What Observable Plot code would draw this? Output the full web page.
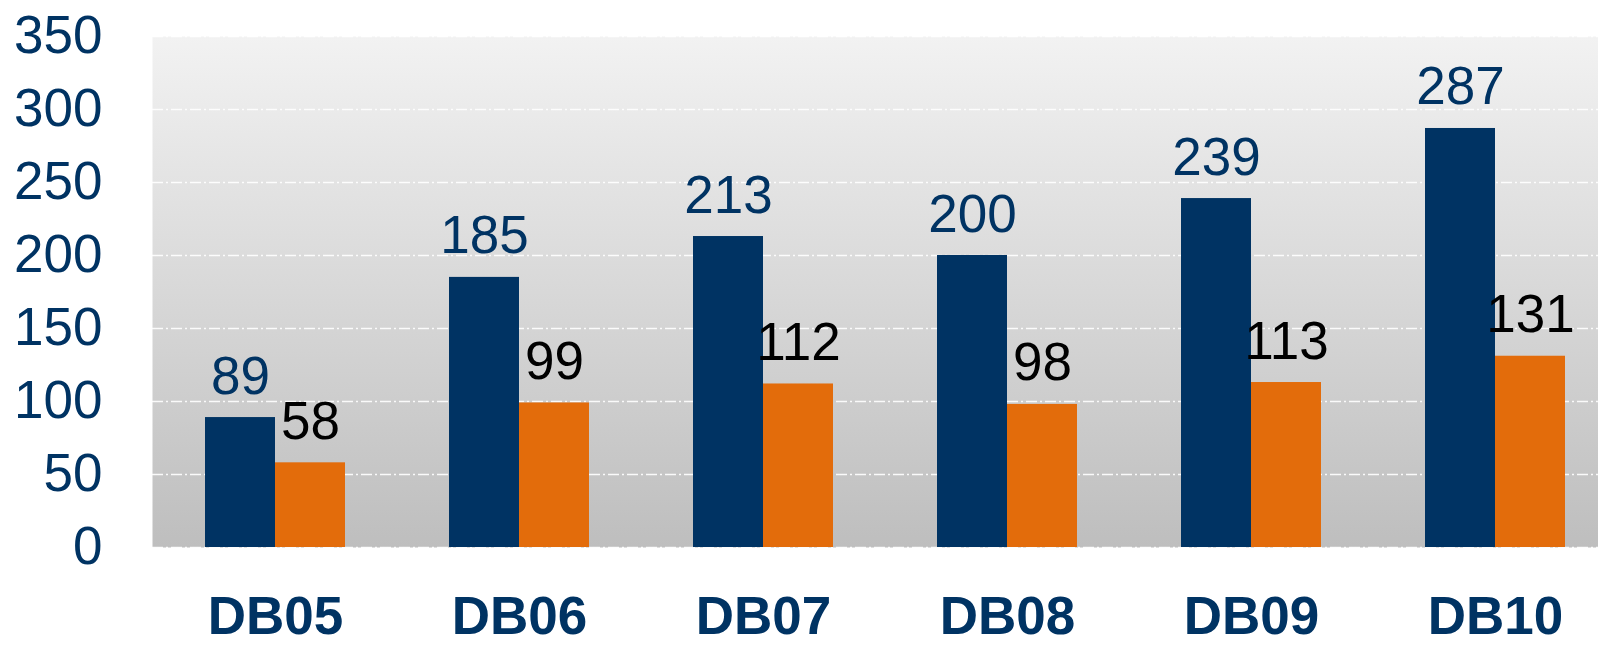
<!DOCTYPE html>
<html>
<head>
<meta charset="utf-8">
<script src="https://cdn.jsdelivr.net/npm/d3@7"></script>
<script src="https://cdn.jsdelivr.net/npm/@observablehq/plot@0.6"></script>
<style>
  html, body { margin: 0; padding: 0; background: #ffffff; overflow: hidden; }
  #chart svg { display: block; overflow: hidden; }
</style>
</head>
<body>
<div id="chart"></div>
<script>
const categories = ["DB05", "DB06", "DB07", "DB08", "DB09", "DB10"];
const seriesNavy = [89, 185, 213, 200, 239, 287];
const seriesOrange = [58, 99, 112, 98, 113, 131];
const yTicks = [0, 50, 100, 150, 200, 250, 300, 350];

const navy = "#003363";
const orange = "#E36C0B";

const dataNavy = categories.map((c, i) => ({cat: c, value: seriesNavy[i]}));
const dataOrange = categories.map((c, i) => ({cat: c, value: seriesOrange[i]}));

const FS = 53;
const half = 70;

const chart = Plot.plot({
  width: 1598,
  height: 647,
  marginTop: 36,
  marginBottom: 100,
  marginLeft: 152,
  marginRight: 0,
  style: {fontFamily: "'Liberation Sans', Arial, sans-serif", fontSize: FS + "px", color: navy, background: "transparent"},
  x: {domain: categories, range: [152, 1618], paddingInner: 0.427, paddingOuter: 0.213, label: null},
  y: {domain: [0, 350], label: null},
  marks: [
    Plot.frame({fill: "url(#bgGrad)", stroke: null}),
    Plot.ruleY(yTicks, {stroke: "white", strokeOpacity: 0.9, strokeWidth: 1.5, strokeDasharray: "11,3,2,3"}),
    Plot.barY(dataNavy, {x: "cat", y: "value", fill: navy, insetRight: half}),
    Plot.barY(dataOrange, {x: "cat", y: "value", fill: orange, insetLeft: half}),
    Plot.text(dataNavy, {x: "cat", y: "value", text: d => String(d.value), dx: -half / 2, dy: -24, lineAnchor: "bottom", fill: navy, fontSize: FS}),
    Plot.text(dataOrange, {x: "cat", y: "value", text: d => String(d.value), dx: half / 2, dy: -24, lineAnchor: "bottom", fill: "#000000", fontSize: FS}),
    Plot.axisY({ticks: yTicks, tickSize: 0, tickPadding: 50, fontSize: FS, fill: navy, label: null}),
    Plot.axisX({tickSize: 0, tickPadding: 49, fontSize: FS, fontWeight: "bold", fill: navy, label: null})
  ]
});

const defs = d3.select(chart).insert("defs", ":first-child");
const grad = defs.append("linearGradient").attr("id", "bgGrad").attr("x1", 0).attr("y1", 0).attr("x2", 0).attr("y2", 1);
grad.append("stop").attr("offset", "0%").attr("stop-color", "#F2F2F2");
grad.append("stop").attr("offset", "100%").attr("stop-color", "#BEBEBE");

document.getElementById("chart").appendChild(chart);
</script>
</body>
</html>
